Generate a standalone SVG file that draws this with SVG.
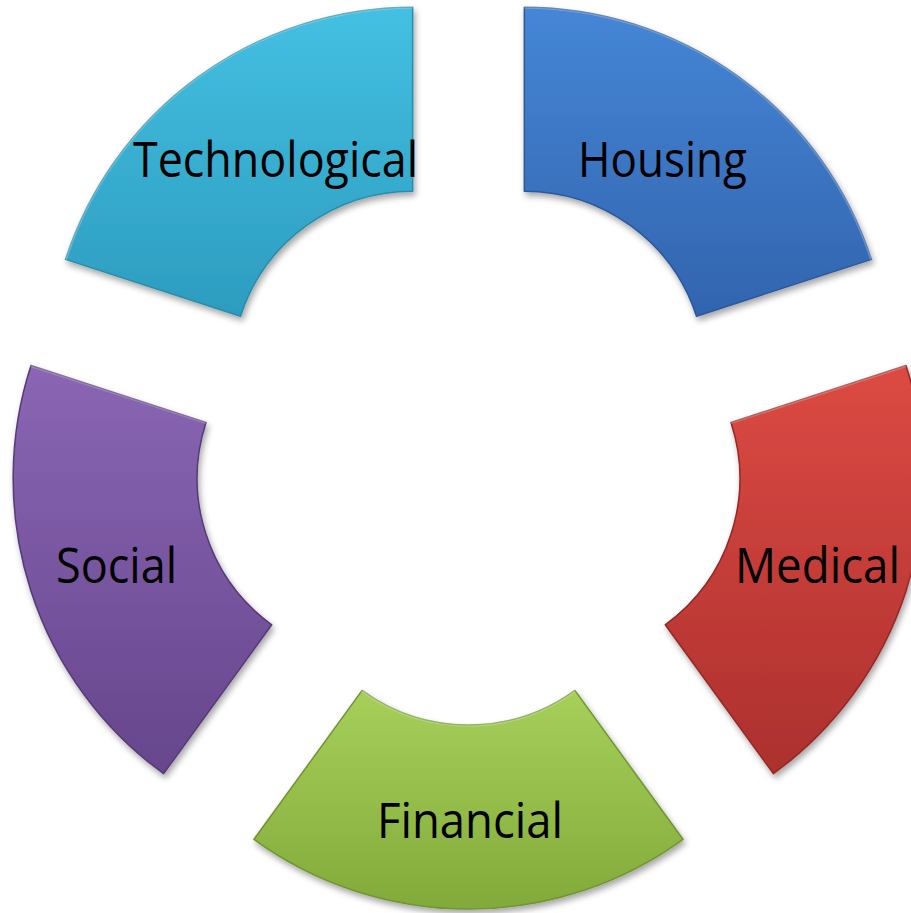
<svg xmlns="http://www.w3.org/2000/svg" width="911" height="913" viewBox="0 0 911 913">
  <defs>
    <style>
      .seg { stroke-width: 1.5; stroke-linejoin: round; filter: url(#shadow); }
      .lbl { font-family: "Open Sans", "Liberation Sans", sans-serif; font-size: 49px; fill: #000000; }
      .bevel { fill: none; stroke: #ffffff; stroke-opacity: 0.28; stroke-width: 3; stroke-linejoin: round; }
    </style>
    <filter id="shadow" x="-10%" y="-10%" width="125%" height="125%">
      <feDropShadow dx="2" dy="4" stdDeviation="3" flood-color="#000000" flood-opacity="0.35"/>
    </filter>
    <linearGradient id="gTech" x1="0" y1="0" x2="0" y2="1">
      <stop offset="0" stop-color="#44C0E2"/>
      <stop offset="1" stop-color="#2C9CBF"/>
    </linearGradient>
    <linearGradient id="gHouse" x1="0" y1="0" x2="0" y2="1">
      <stop offset="0" stop-color="#4586D6"/>
      <stop offset="1" stop-color="#3264AE"/>
    </linearGradient>
    <linearGradient id="gMed" x1="0" y1="0" x2="0" y2="1">
      <stop offset="0" stop-color="#DC4A43"/>
      <stop offset="1" stop-color="#AC302E"/>
    </linearGradient>
    <linearGradient id="gFin" x1="0" y1="0" x2="0" y2="1">
      <stop offset="0" stop-color="#A6D05A"/>
      <stop offset="1" stop-color="#82AA3A"/>
    </linearGradient>
    <linearGradient id="gSoc" x1="0" y1="0" x2="0" y2="1">
      <stop offset="0" stop-color="#8A66B4"/>
      <stop offset="1" stop-color="#66468C"/>
    </linearGradient>
  </defs>
  <rect x="0" y="0" width="911" height="913" fill="#ffffff"/>

  <g id="connectors"></g>

  <g id="technological">
    <path class="seg" fill="url(#gTech)" stroke="#2A8CAA" d="M 65.52 259.35 A 365 365 0 0 1 412.66 7.14 L 412.66 191.14 A 181 181 0 0 0 240.52 316.21 Z"/>
    <path class="bevel" d="M 65.52 259.35 A 365 365 0 0 1 412.66 7.14"/>
    <text class="lbl" x="133" y="177" textLength="285" lengthAdjust="spacingAndGlyphs">Technological</text>
  </g>

  <g id="housing">
    <path class="seg" fill="url(#gHouse)" stroke="#2B589C" d="M 524.34 7.14 A 365 365 0 0 1 871.48 259.35 L 696.48 316.21 A 181 181 0 0 0 524.34 191.14 Z"/>
    <path class="bevel" d="M 524.34 7.14 A 365 365 0 0 1 871.48 259.35"/>
    <text class="lbl" x="578" y="177" textLength="169" lengthAdjust="spacingAndGlyphs">Housing</text>
  </g>

  <g id="medical">
    <path class="seg" fill="url(#gMed)" stroke="#962826" d="M 905.99 365.57 A 365 365 0 0 1 773.39 773.65 L 665.24 624.79 A 181 181 0 0 0 730.99 422.43 Z"/>
    <path class="bevel" d="M 730.99 422.43 L 905.99 365.57"/>
    <text class="lbl" x="735" y="583" textLength="165" lengthAdjust="spacingAndGlyphs">Medical</text>
  </g>

  <g id="financial">
    <path class="seg" fill="url(#gFin)" stroke="#6F9530" d="M 683.04 839.29 A 365 365 0 0 1 253.96 839.29 L 362.11 690.43 A 181 181 0 0 0 574.89 690.43 Z"/>
    <path class="bevel" d="M 362.11 690.43 A 181 181 0 0 0 574.89 690.43"/>
    <text class="lbl" x="377" y="838" textLength="186" lengthAdjust="spacingAndGlyphs">Financial</text>
  </g>

  <g id="social">
    <path class="seg" fill="url(#gSoc)" stroke="#563a78" d="M 163.61 773.65 A 365 365 0 0 1 31.01 365.57 L 206.01 422.43 A 181 181 0 0 0 271.76 624.79 Z"/>
    <path class="bevel" d="M 31.01 365.57 L 206.01 422.43"/>
    <text class="lbl" x="56" y="583" textLength="121" lengthAdjust="spacingAndGlyphs">Social</text>
  </g>
</svg>
